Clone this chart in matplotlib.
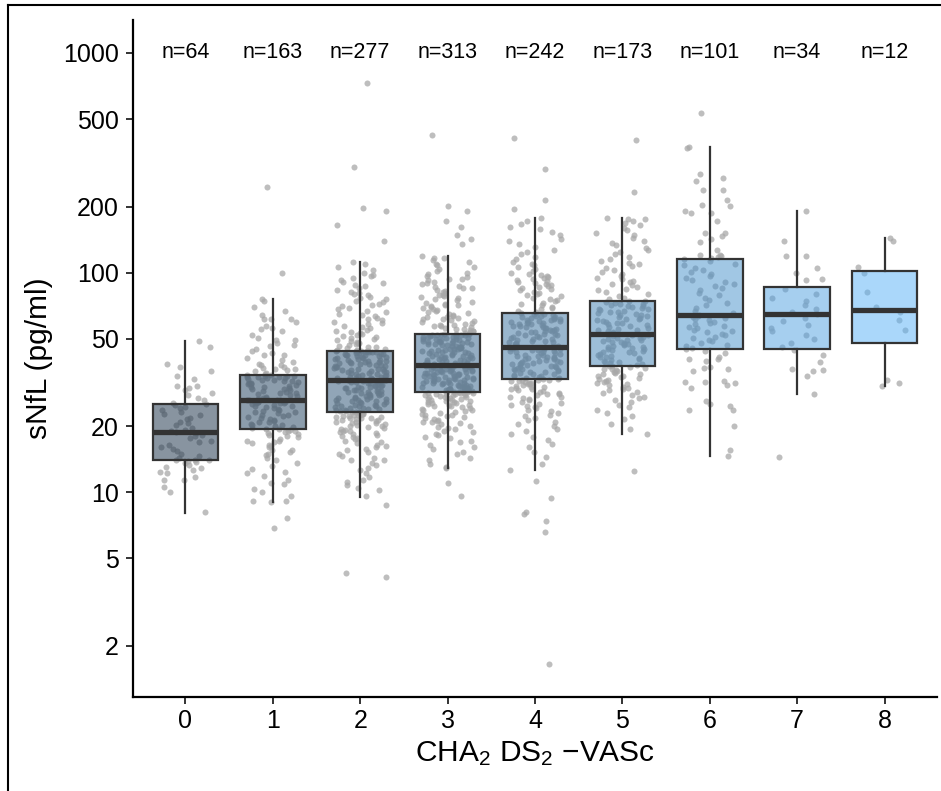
import numpy as np
import matplotlib
matplotlib.use('Agg')
import matplotlib.pyplot as plt
from matplotlib.lines import Line2D
from matplotlib.ticker import NullLocator

plt.rcParams['font.family'] = ['Liberation Sans', 'DejaVu Sans']
plt.rcParams['mathtext.fontset'] = 'custom'
plt.rcParams['mathtext.rm'] = 'Liberation Sans'
plt.rcParams['mathtext.default'] = 'regular'

# CHA2DS2-VASc score groups and sample sizes
scores = [0, 1, 2, 3, 4, 5, 6, 7, 8]
counts = [64, 163, 277, 313, 242, 173, 101, 34, 12]

# box statistics (pg/ml)
whis_lo = [8.06, 9.04, 9.56, 12.9, 12.6, 18.4, 14.7, 28.0, 30.5]
q1 = [14.0, 19.4, 23.1, 28.5, 32.7, 37.7, 45.0, 45.0, 47.7]
median = [18.9, 26.3, 32.5, 38.0, 45.8, 52.6, 64.2, 64.7, 67.6]
q3 = [25.2, 34.2, 44.0, 52.4, 65.3, 74.6, 115.5, 86.4, 101.5]
whis_hi = [48.9, 75.9, 112, 119, 177, 177, 374.6, 191, 144]

# individual sNfL values (estimated from the jittered points)
g0 = [8.1, 10.0, 10.6, 11.4, 11.4, 11.7, 12.2, 12.4, 12.6, 12.9, 13.0, 13.3, 13.6, 13.8, 13.9, 14.0,
      14.0, 14.1, 14.3, 14.6, 15.0, 15.4, 15.7, 16.1, 16.5, 16.9, 17.2, 17.6, 18.0, 18.3, 18.6, 18.9,
      19.0, 19.3, 19.7, 20.2, 20.6, 21.0, 21.5, 21.9, 22.4, 22.8, 23.3, 23.7, 24.1, 24.5, 24.9, 25.2,
      25.6, 26.3, 27.0, 27.8, 28.3, 29.1, 30.0, 30.5, 30.5, 32.8, 33.7, 35.5, 37.2, 38.3, 46.0, 49.0]
g1 = [6.9, 7.6, 9.0, 9.1, 9.1, 9.6, 10.0, 10.4, 10.9, 11.0, 11.4, 11.9, 12.3, 12.4, 12.8, 13.2, 13.6,
      14.0, 14.3, 14.8, 15.0, 15.3, 15.6, 15.6, 16.0, 16.2, 16.5, 16.7, 17.0, 17.1, 17.1, 17.4, 17.8,
      18.0, 18.2, 18.4, 18.6, 18.8, 19.0, 19.1, 19.3, 19.4,
      19.5, 19.6, 19.8, 20.0, 20.2, 20.3, 20.5, 20.8, 21.0, 21.2, 21.4, 21.6, 21.8, 22.0, 22.2, 22.4,
      22.6, 22.9, 23.1, 23.3, 23.5, 23.8, 24.0, 24.2, 24.4, 24.6, 24.8, 25.0, 25.2, 25.4, 25.5, 25.6,
      25.7, 25.8, 25.9, 26.0, 26.1, 26.2, 26.3, 26.3,
      26.4, 26.6, 26.8, 27.0, 27.2, 27.5, 27.7, 28.0, 28.2, 28.4, 28.7, 28.9, 29.1, 29.4, 29.6, 29.9,
      30.1, 30.3, 30.6, 30.8, 31.0, 31.2, 31.4, 31.6, 31.8, 32.0, 32.2, 32.4, 32.6, 32.8, 33.0, 33.2,
      33.4, 33.5, 33.6, 33.8, 33.9, 34.0, 34.1, 34.2,
      34.5, 35.0, 35.5, 36.0, 36.6, 36.6, 36.9, 37.3, 37.8, 37.8, 38.5, 39.2, 40.2, 41.0, 42.0, 42.0,
      43.0, 44.0, 45.0, 46.4, 47.0, 48.0, 49.3, 49.4, 50.4, 52.0, 54.5, 55.6, 55.8, 57.0, 59.8, 61.3,
      61.6, 61.6, 64.0, 67.0, 70.0, 74.0, 75.9, 100, 245]
g2 = [4.1, 4.3, 8.8,
      9.6, 10.2, 10.5, 10.8, 11.2, 11.4, 11.8, 12.2, 12.6, 12.9, 13.3, 13.6, 14.0, 14.0, 14.3, 14.6,
      14.9, 15.2, 15.6, 15.8, 16.0, 16.3, 16.5, 16.8, 17.0, 17.2, 17.4, 17.6, 17.8, 18.0, 18.2, 18.4,
      18.6, 18.8, 19.0, 19.1, 19.3, 19.5, 19.7, 19.8, 20.0, 20.1, 20.3, 20.4, 20.6, 20.7, 20.9, 21.0,
      21.1, 21.3, 21.4, 21.5, 21.7, 21.8, 21.9, 22.0, 22.1, 22.2, 22.3, 22.4, 22.5, 22.6, 22.7, 22.8,
      22.9, 23.0, 23.1,
      23.2, 23.3, 23.4, 23.5, 23.7, 23.8, 23.9, 24.0, 24.2, 24.3, 24.4, 24.6, 24.7, 24.8, 25.0, 25.1,
      25.3, 25.4, 25.5, 25.7, 25.8, 26.0, 26.1, 26.3, 26.4, 26.6, 26.7, 26.9, 27.0, 27.2, 27.3, 27.5,
      27.6, 27.8, 27.9, 28.1, 28.2, 28.4, 28.5, 28.7, 28.9, 29.0, 29.2, 29.3, 29.5, 29.7, 29.8, 30.0,
      30.1, 30.3, 30.5, 30.6, 30.8, 30.9, 31.1, 31.3, 31.4, 31.6, 31.7, 31.9, 32.0, 32.1, 32.2, 32.3,
      32.4, 32.5, 32.5,
      32.6, 32.8, 33.0, 33.1, 33.3, 33.5, 33.6, 33.8, 34.0, 34.1, 34.3, 34.5, 34.7, 34.8, 35.0, 35.2,
      35.4, 35.5, 35.7, 35.9, 36.1, 36.3, 36.4, 36.6, 36.8, 37.0, 37.2, 37.4, 37.6, 37.8, 38.0, 38.2,
      38.4, 38.6, 38.8, 39.0, 39.2, 39.4, 39.6, 39.8, 40.0, 40.2, 40.4, 40.6, 40.8, 41.0, 41.2, 41.4,
      41.6, 41.8, 42.0, 42.1, 42.3, 42.5, 42.6, 42.8, 43.0, 43.1, 43.3, 43.4, 43.6, 43.7, 43.8, 43.9,
      44.0, 44.0, 44.0,
      44.3, 44.6, 45.0, 45.3, 45.7, 46.0, 46.4, 46.8, 47.2, 47.6, 48.0, 48.5, 49.0, 49.4, 50.0, 50.5,
      51.0, 51.5, 52.0, 52.6, 53.2, 53.8, 54.4, 55.0, 55.8, 56.6, 57.4, 58.2, 59.0, 59.8, 60.6, 61.4,
      62.3, 63.2, 64.1, 65.0, 66.0, 67.0, 68.0, 69.0, 70.2, 71.4, 72.3, 73.5, 74.6, 75.8, 76.4, 77.6,
      78.8, 80.0, 80.6, 82.0, 83.5, 85.0, 86.5, 88.0, 89.5, 91.0, 92.5, 94.9, 96.5, 98.0, 100, 103,
      106, 109, 112,
      139, 165, 191, 197, 302, 730]
g3 = [9.6, 11.0,
      12.9, 13.1, 13.5, 14.0, 14.4, 14.9, 15.3, 15.7, 16.1, 16.5, 16.9, 17.2, 17.6, 17.9, 18.2, 18.5,
      18.8, 19.1, 19.4, 19.6, 19.9, 20.1, 20.4, 20.6, 20.8, 21.0, 21.2, 21.4, 21.6, 21.8, 22.0, 22.2,
      22.4, 22.6, 22.8, 23.0, 23.2, 23.4, 23.6, 23.8, 24.0, 24.2, 24.4, 24.6, 24.7, 24.9, 25.1, 25.2,
      25.4, 25.5, 25.7, 25.8, 26.0, 26.1, 26.3, 26.4, 26.6, 26.7, 26.8, 27.0, 27.1, 27.2, 27.3, 27.5,
      27.6, 27.7, 27.8, 27.9, 28.0, 28.1, 28.2, 28.3, 28.4, 28.4, 28.5, 28.5,
      28.6, 28.7, 28.8, 28.9, 29.0, 29.2, 29.3, 29.4, 29.5, 29.6, 29.8, 29.9, 30.0, 30.1, 30.3, 30.4,
      30.5, 30.6, 30.8, 30.9, 31.0, 31.1, 31.3, 31.4, 31.5, 31.6, 31.8, 31.9, 32.0, 32.2, 32.3, 32.4,
      32.5, 32.7, 32.8, 32.9, 33.1, 33.2, 33.3, 33.4, 33.6, 33.7, 33.8, 34.0, 34.1, 34.2, 34.4, 34.5,
      34.6, 34.8, 34.9, 35.0, 35.2, 35.3, 35.4, 35.6, 35.7, 35.8, 36.0, 36.1, 36.2, 36.4, 36.5, 36.6,
      36.8, 36.9, 37.0, 37.2, 37.3, 37.4, 37.5, 37.6, 37.7, 37.8, 37.9, 38.0,
      38.1, 38.3, 38.5, 38.7, 38.9, 39.1, 39.3, 39.5, 39.7, 39.9, 40.1, 40.3, 40.5, 40.7, 40.9, 41.1,
      41.3, 41.5, 41.7, 41.9, 42.1, 42.3, 42.5, 42.7, 42.9, 43.1, 43.3, 43.5, 43.7, 43.9, 44.1, 44.3,
      44.5, 44.7, 44.9, 45.1, 45.3, 45.5, 45.7, 45.9, 46.1, 46.3, 46.5, 46.7, 46.9, 47.1, 47.3, 47.5,
      47.7, 47.9, 48.1, 48.3, 48.5, 48.7, 48.9, 49.1, 49.3, 49.5, 49.7, 49.9, 50.1, 50.3, 50.5, 50.7,
      50.9, 51.1, 51.3, 51.5, 51.7, 51.8, 51.9, 52.0, 52.1, 52.2, 52.3, 52.4,
      52.8, 53.2, 53.6, 54.0, 54.4, 54.8, 55.2, 55.6, 56.0, 56.5, 57.0, 57.3, 57.5, 58.0, 58.5, 59.0,
      59.5, 60.0, 60.6, 61.2, 61.8, 62.4, 62.7, 63.0, 63.6, 64.2, 64.8, 65.5, 66.2, 66.9, 67.6, 68.3,
      69.0, 69.8, 70.6, 71.0, 71.4, 72.2, 73.0, 73.9, 74.8, 75.7, 76.6, 77.5, 78.5, 79.0, 79.5, 80.5,
      81.5, 82.6, 83.7, 84.8, 85.5, 86.0, 87.2, 88.4, 89.6, 91.0, 92.4, 93.8, 94.0, 95.3, 96.8, 98.4,
      100, 102, 104, 106, 108, 110, 112, 114, 116, 117, 119,
      135, 142, 149, 161, 172, 191, 201, 423]
g4 = [1.65, 6.6, 7.4, 8.0, 8.1, 9.4, 11.3,
      12.6, 13.5, 14.5, 15.2, 16.0, 16.6, 17.3, 17.9, 18.5, 19.0, 19.5, 20.0, 20.5, 21.0, 21.4, 21.8,
      22.2, 22.6, 23.0, 23.4, 23.8, 24.1, 24.4, 24.7, 25.0, 25.3, 25.6, 25.9, 26.2, 26.5, 26.8, 27.1,
      27.3, 27.6, 27.9, 28.1, 28.4, 28.6, 28.9, 29.1, 29.4, 29.6, 29.9, 30.1, 30.3, 30.6, 30.8, 31.0,
      31.2, 31.4, 31.6, 31.8, 32.0, 32.2, 32.3, 32.5, 32.6, 32.7,
      32.9, 33.1, 33.3, 33.5, 33.8, 34.0, 34.2, 34.5, 34.7, 34.9, 35.2, 35.4, 35.6, 35.9, 36.1, 36.3,
      36.6, 36.8, 37.0, 37.3, 37.5, 37.7, 38.0, 38.2, 38.4, 38.7, 38.9, 39.1, 39.4, 39.6, 39.8, 40.1,
      40.3, 40.5, 40.8, 41.0, 41.2, 41.5, 41.7, 41.9, 42.2, 42.4, 42.6, 42.9, 43.1, 43.3, 43.6, 43.8,
      44.0, 44.3, 44.5, 44.7, 45.0, 45.2, 45.4, 45.6, 45.7, 45.8,
      46.1, 46.4, 46.8, 47.1, 47.4, 47.8, 48.1, 48.4, 48.8, 49.1, 49.4, 49.8, 50.1, 50.4, 50.8, 51.1,
      51.4, 51.8, 52.1, 52.4, 52.8, 53.1, 53.4, 53.8, 54.1, 54.4, 54.8, 55.1, 55.4, 55.8, 56.1, 56.4,
      56.8, 57.1, 57.4, 57.8, 58.1, 58.4, 58.8, 59.1, 59.4, 59.8, 60.1, 60.4, 60.8, 61.1, 61.4, 61.8,
      62.1, 62.4, 62.8, 63.1, 63.4, 63.8, 64.1, 64.5, 64.9, 65.3,
      66, 67, 68, 69, 70, 71, 72, 73, 74, 75, 76, 77, 78, 79, 80, 81, 82, 83, 84, 85, 86, 87, 88, 89,
      90, 91, 92, 93, 94, 95, 96, 97, 98, 99, 100, 102, 104, 106, 108, 110, 112, 115, 118, 121, 124,
      127, 131, 135, 139, 143, 148, 153, 158, 161, 166, 172, 177,
      195, 214, 296, 410]
g5 = [12.5,
      18.4, 19.5, 20.5, 21.5, 22.3, 23.0, 23.8, 24.5, 25.1, 25.7, 26.3, 26.8, 27.3, 27.8, 28.3, 28.7,
      29.1, 29.5, 29.9, 30.3, 30.7, 31.0, 31.4, 31.7, 32.0, 32.4, 32.7, 33.0, 33.4, 33.7, 34.0, 34.4,
      34.7, 35.0, 35.4, 35.7, 36.0, 36.3, 36.6, 36.9, 37.2, 37.5, 37.7,
      38.0, 38.4, 38.7, 39.1, 39.4, 39.8, 40.1, 40.5, 40.8, 41.2, 41.5, 41.9, 42.2, 42.6, 42.9, 43.3,
      43.6, 44.0, 44.3, 44.7, 45.0, 45.4, 45.7, 46.1, 46.4, 46.8, 47.1, 47.5, 47.8, 48.2, 48.5, 48.9,
      49.2, 49.6, 49.9, 50.3, 50.6, 51.0, 51.4, 51.8, 52.2, 52.6,
      53.1, 53.6, 54.1, 54.6, 55.1, 55.6, 56.1, 56.7, 57.2, 57.7, 58.2, 58.7, 59.2, 59.8, 60.3, 60.8,
      61.3, 61.8, 62.4, 62.9, 63.4, 63.9, 64.4, 65.0, 65.5, 66.0, 66.5, 67.0, 67.6, 68.1, 68.6, 69.1,
      69.6, 70.2, 70.7, 71.2, 71.7, 72.2, 72.8, 73.4, 74.0, 74.6,
      75.5, 77, 78.5, 80, 81.5, 83, 84.5, 86, 87.5, 89, 90.5, 92, 93.5, 95, 97, 99, 101, 103, 105,
      107, 109, 111, 113, 115, 118, 121, 124, 127, 130, 133, 136, 140, 144, 148, 152, 156, 160, 164,
      168, 172, 175, 176, 177,
      233, 402]
g6 = [14.7, 15.6, 20.0, 23.6, 23.7, 24.7, 25.3, 26.0, 30.0, 30.7, 31.4, 31.9, 31.9, 32.0, 35.5,
      36.4, 36.8, 37.3, 39.5, 40.3, 40.5, 41.5, 43.0, 44.0, 44.8,
      45.5, 46.2, 47.0, 47.8, 48.6, 49.4, 50.2, 51.0, 51.8, 52.6, 53.4, 54.2, 55.0, 55.8, 56.6, 57.4,
      58.2, 59.0, 59.8, 60.6, 61.4, 62.2, 63.0, 63.6, 64.2,
      65.5, 67, 69, 71, 73, 75, 77, 79, 81, 83, 85, 87, 89, 91, 93, 95, 97, 99, 101, 103, 105, 108,
      110, 113, 115.5,
      117, 118, 119, 120, 120, 127, 138, 143, 147, 152, 152, 172, 186, 186, 190, 202, 204, 214, 238,
      238, 261, 270, 281, 370, 375,
      533]
g7 = [14.5, 28.0, 33.8, 35.8, 36.0, 36.5, 39.3, 42.0, 44.5,
      46, 48, 50, 52, 54, 56, 58, 60, 62, 64.7, 66, 68, 71, 74, 77, 80, 84,
      93, 94, 100, 105, 119, 119, 139, 191]
g8 = [30.4, 31.6, 32.6, 54.6, 60.6, 66.4, 69.8, 81.6, 100, 106, 139, 144]

groups = [g0, g1, g2, g3, g4, g5, g6, g7, g8]

low_col = np.array([0x13, 0x2B, 0x43]) / 255
high_col = np.array([0x56, 0xB1, 0xF7]) / 255

fig = plt.figure(figsize=(9.41, 7.91), dpi=100)
ax = fig.add_axes([133 / 941, 1 - 697 / 791, (937 - 133) / 941, (697 - 20) / 791])

# jittered points (deterministic spread based on value and index)
for i, vals in enumerate(groups):
    v = np.array(vals, dtype=float)
    k = np.arange(len(v))
    off = ((np.log(v) * 1000.0 + k * 0.618034) % 1 - 0.5) * 0.6
    ax.scatter(scores[i] + off, v, s=19, color='#a8a8a8', alpha=0.75,
               linewidths=0, zorder=1)

stats = []
for i in range(len(scores)):
    stats.append(dict(med=median[i], q1=q1[i], q3=q3[i],
                      whislo=whis_lo[i], whishi=whis_hi[i]))

bp = ax.bxp(stats, positions=scores, widths=0.75, patch_artist=True,
            showfliers=False, showcaps=False,
            boxprops=dict(edgecolor='#333333', linewidth=1.6),
            whiskerprops=dict(color='#333333', linewidth=1.6),
            medianprops=dict(color='#333333', linewidth=3.8, solid_capstyle='butt'),
            zorder=2)
for i, patch in enumerate(bp['boxes']):
    t = i / 8
    c = low_col + (high_col - low_col) * t
    patch.set_facecolor((c[0], c[1], c[2], 0.5))

for i, c in enumerate(counts):
    ax.text(scores[i], 1000, 'n=%d' % c, ha='center', va='center', fontsize=15.5)

ax.set_yscale('log')
ax.set_ylim(1.17, 1413)
ax.set_xlim(-0.6, 8.6)
yt = [2, 5, 10, 20, 50, 100, 200, 500, 1000]
ax.set_yticks(yt)
ax.set_yticklabels([str(t) for t in yt])
ax.yaxis.set_minor_locator(NullLocator())
ax.set_xticks(scores)
ax.set_xticklabels([str(s) for s in scores])

for s in ['top', 'right']:
    ax.spines[s].set_visible(False)
for s in ['left', 'bottom']:
    ax.spines[s].set_linewidth(1.6)
ax.tick_params(axis='both', length=5, width=1.4, color='#333333', labelsize=18)
ax.tick_params(axis='y', pad=5)
ax.tick_params(axis='x', pad=4)

ax.set_ylabel('sNfL (pg/ml)', fontsize=21.5)
ax.yaxis.set_label_coords(-0.10, 0.5)
ax.set_xlabel('CHA$_2$ DS$_2$ \u2212VASc', fontsize=21.5)
ax.xaxis.set_label_coords(0.5, -0.062)

# partial frame around the figure
fig.add_artist(Line2D([8 / 941, 8 / 941], [0, 1 - 5 / 791], color='black', lw=1.5,
                      transform=fig.transFigure))
fig.add_artist(Line2D([8 / 941, 1], [1 - 5 / 791, 1 - 5 / 791], color='black', lw=1.5,
                      transform=fig.transFigure))

fig.savefig('out.png', dpi=100)
